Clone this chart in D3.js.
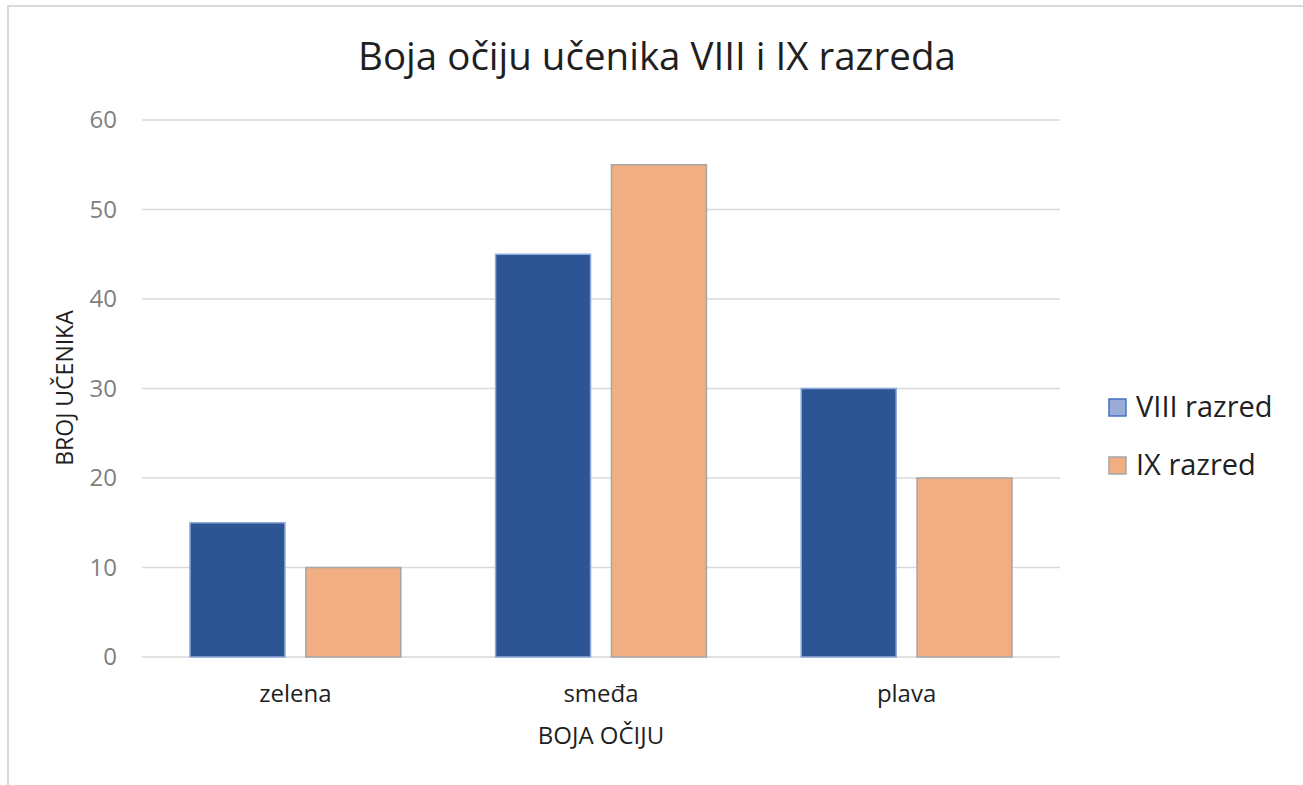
<!DOCTYPE html>
<html>
<head>
<meta charset="utf-8">
<script src="https://cdn.jsdelivr.net/npm/d3@7"></script>
<style>
  body { margin: 0; background: #fff; }
  svg { display: block; font-family: "Open Sans", "Noto Sans", sans-serif; }
</style>
</head>
<body>
<div id="chart"></div>
<script>
const categories = ["zelena", "smeđa", "plava"];
const seriesNames = ["VIII razred", "IX razred"];
const viiiValues = [15, 45, 30];
const ixValues = [10, 55, 20];
const yTicks = [0, 10, 20, 30, 40, 50, 60];

const width = 1303, height = 785;
const colors = { "VIII razred": "#2e5593", "IX razred": "#f0ae82" };
const strokes = { "VIII razred": "#8faadc", "IX razred": "#a6a6a6" };

const svg = d3.select("#chart").append("svg")
    .attr("width", width)
    .attr("height", height);

// outer frame
svg.append("rect")
    .attr("x", 8).attr("y", 6)
    .attr("width", 1310).attr("height", 800)
    .attr("fill", "none")
    .attr("stroke", "#d9d9d9")
    .attr("stroke-width", 2);

const plot = { left: 142, right: 1060, top: 120, bottom: 657 };

const x = d3.scaleBand().domain(categories).range([plot.left, plot.right])
    .paddingInner(0.31).paddingOuter(0.157);
const xInner = d3.scaleBand().domain(seriesNames).range([0, x.bandwidth()]).paddingInner(0.18);
const y = d3.scaleLinear().domain([0, 60]).range([plot.bottom, plot.top]);

// gridlines
svg.append("g").selectAll("line").data(yTicks).join("line")
    .attr("x1", plot.left).attr("x2", plot.right)
    .attr("y1", d => y(d)).attr("y2", d => y(d))
    .attr("stroke", "#d9d9d9")
    .attr("stroke-width", 1.5);

// y tick labels
svg.append("g").selectAll("text").data(yTicks).join("text")
    .attr("x", 117).attr("y", d => y(d))
    .attr("dy", "0.35em")
    .attr("text-anchor", "end")
    .attr("fill", "#7f7f7f")
    .style("font-size", "24px")
    .text(d => d);

const rows = categories.map((c, i) => ({ cat: c, vals: [viiiValues[i], ixValues[i]] }));

const groups = svg.append("g").selectAll("g").data(rows).join("g")
    .attr("transform", d => `translate(${x(d.cat)},0)`);

groups.selectAll("rect").data(d => d.vals.map((v, j) => ({ s: seriesNames[j], v }))).join("rect")
    .attr("x", d => xInner(d.s))
    .attr("y", d => y(d.v))
    .attr("width", xInner.bandwidth())
    .attr("height", d => y(0) - y(d.v))
    .attr("fill", d => colors[d.s])
    .attr("stroke", d => strokes[d.s])
    .attr("stroke-width", 1.5);

// category labels
svg.append("g").selectAll("text").data(categories).join("text")
    .attr("x", d => x(d) + x.bandwidth() / 2)
    .attr("y", 702)
    .attr("text-anchor", "middle")
    .attr("fill", "#1f1f1f")
    .style("font-size", "24px")
    .text(d => d);

// axis titles
svg.append("text")
    .attr("x", 601).attr("y", 744)
    .attr("text-anchor", "middle")
    .attr("fill", "#1f1f1f")
    .style("font-size", "24px")
    .text("BOJA OČIJU");

svg.append("text")
    .attr("transform", "translate(73,388) rotate(-90)")
    .attr("text-anchor", "middle")
    .attr("fill", "#1f1f1f")
    .style("font-size", "23px")
    .text("BROJ UČENIKA");

// title
svg.append("text")
    .attr("x", 657).attr("y", 70)
    .attr("text-anchor", "middle")
    .attr("fill", "#1f1f1f")
    .style("font-size", "38.5px")
    .text("Boja očiju učenika VIII i IX razreda");

// legend
const legend = svg.append("g").selectAll("g").data(seriesNames).join("g")
    .attr("transform", (d, i) => `translate(1109,${399 + i * 58})`);

legend.append("rect")
    .attr("width", 17).attr("height", 17)
    .attr("fill", (d, i) => i === 0 ? "#9aabd8" : colors[d])
    .attr("stroke", (d, i) => i === 0 ? "#4472c4" : "#a6a6a6")
    .attr("stroke-width", 1.5);

legend.append("text")
    .attr("x", 27).attr("y", 18)
    .attr("fill", "#1f1f1f")
    .style("font-size", "29px")
    .text(d => d);
</script>
</body>
</html>
